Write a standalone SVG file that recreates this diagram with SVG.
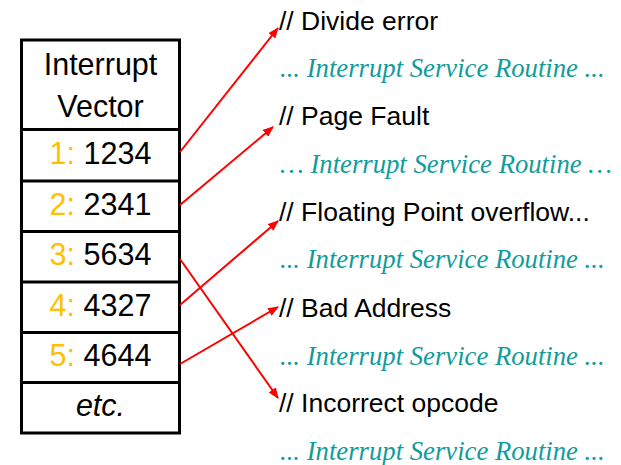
<svg xmlns="http://www.w3.org/2000/svg" width="621" height="465" viewBox="0 0 621 465">
  <style>
    .cell { fill: #ffffff; stroke: #000000; stroke-width: 3; }
    .sep { stroke: #000000; stroke-width: 3; }
    .tbl { font-family: "Liberation Sans", Arial, sans-serif; font-size: 30.5px; fill: #000000; text-anchor: middle; }
    .idx { fill: #FFC000; }
    .lbl { font-family: "Liberation Sans", Arial, sans-serif; font-size: 26.5px; fill: #000000; }
    .isr { font-family: "Liberation Serif", "Times New Roman", serif; font-size: 26.7px; font-style: italic; fill: #119C9C; }
    .arrow { stroke: #FF0000; stroke-width: 2; fill: none; marker-end: url(#head); }
  </style>
  <defs>
    <marker id="head" viewBox="0 0 10 8" refX="9" refY="4" markerWidth="5.5" markerHeight="4.4" orient="auto" markerUnits="strokeWidth">
      <path d="M0,0 L10,4 L0,8 Z" fill="#FF0000"/>
    </marker>
  </defs>

  <!-- interrupt vector table -->
  <g id="vector-table">
    <rect class="cell" x="21.5" y="40" width="158" height="393"/>
    <line class="sep" x1="21.5" y1="129.5" x2="179.5" y2="129.5"/>
    <line class="sep" x1="21.5" y1="181" x2="179.5" y2="181"/>
    <line class="sep" x1="21.5" y1="231.5" x2="179.5" y2="231.5"/>
    <line class="sep" x1="21.5" y1="282" x2="179.5" y2="282"/>
    <line class="sep" x1="21.5" y1="332.5" x2="179.5" y2="332.5"/>
    <line class="sep" x1="21.5" y1="382.5" x2="179.5" y2="382.5"/>
    <text class="tbl" x="100.5" y="75">Interrupt</text>
    <text class="tbl" x="100.5" y="117">Vector</text>
  </g>
  <g id="entry-1"><text class="tbl" x="100.5" y="164"><tspan class="idx">1:</tspan> 1234</text></g>
  <g id="entry-2"><text class="tbl" x="100.5" y="215"><tspan class="idx">2:</tspan> 2341</text></g>
  <g id="entry-3"><text class="tbl" x="100.5" y="265"><tspan class="idx">3:</tspan> 5634</text></g>
  <g id="entry-4"><text class="tbl" x="100.5" y="316"><tspan class="idx">4:</tspan> 4327</text></g>
  <g id="entry-5"><text class="tbl" x="100.5" y="366"><tspan class="idx">5:</tspan> 4644</text></g>
  <g id="entry-etc"><text class="tbl" x="100.5" y="416" font-style="italic">etc.</text></g>

  <!-- service routines -->
  <g id="routine-divide">
    <text class="lbl" x="279" y="30">// Divide error</text>
    <text class="isr" x="280" y="77">... Interrupt Service Routine ...</text>
  </g>
  <g id="routine-page-fault">
    <text class="lbl" x="279" y="125">// Page Fault</text>
    <text class="isr" x="280" y="173">… Interrupt Service Routine …</text>
  </g>
  <g id="routine-float">
    <text class="lbl" x="279" y="221">// Floating Point overflow...</text>
    <text class="isr" x="280" y="268">... Interrupt Service Routine ...</text>
  </g>
  <g id="routine-bad-address">
    <text class="lbl" x="279" y="317">// Bad Address</text>
    <text class="isr" x="280" y="365">... Interrupt Service Routine ...</text>
  </g>
  <g id="routine-opcode">
    <text class="lbl" x="279" y="412">// Incorrect opcode</text>
    <text class="isr" x="280" y="460">... Interrupt Service Routine ...</text>
  </g>

  <!-- vector pointers -->
  <g id="connectors">
    <line class="arrow" x1="180" y1="152" x2="278" y2="28"/>
    <line class="arrow" x1="180" y1="205" x2="273" y2="127"/>
    <line class="arrow" x1="180" y1="259" x2="278" y2="398"/>
    <line class="arrow" x1="180" y1="305" x2="278" y2="221"/>
    <line class="arrow" x1="180" y1="364" x2="278" y2="307"/>
  </g>
</svg>
